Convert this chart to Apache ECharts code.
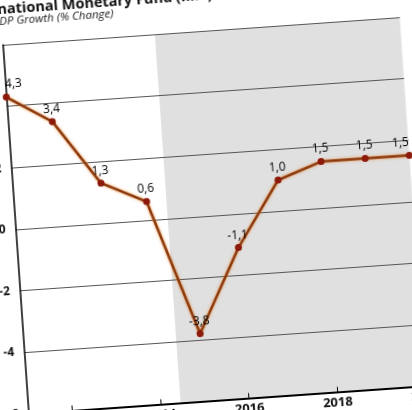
<!DOCTYPE html>
<html>
<head>
<meta charset="utf-8">
<script src="https://cdn.jsdelivr.net/npm/echarts@6/dist/echarts.min.js"></script>
<style>
  html, body { margin: 0; padding: 0; width: 412px; height: 410px; overflow: hidden; background: #fff; }
  #chart {
    position: absolute; left: -60px; top: -40px; width: 520px; height: 500px;
    transform-origin: 60px 40px; transform: rotate(-4deg);
  }
</style>
</head>
<body>
<div id="chart"></div>
<script>
// data
const years = [2011, 2012, 2013, 2014, 2015, 2016, 2017, 2018, 2019, 2020];
const growth = [4.3, 3.4, 1.3, 0.6, -3.8, -1.1, 1.0, 1.5, 1.5, 1.5];
const yearTicks = [2012, 2014, 2016, 2018, 2020];
const shadeFrom = 2014.45;
const shadeTo = 2020;

const chart = echarts.init(document.getElementById('chart'));
const font = 'Open Sans, DejaVu Sans, sans-serif';
const last = years.length - 1;

chart.setOption({
  animation: false,
  title: [
    {
      text: 'International Monetary Fund (IMF)',
      left: 16, top: 37,
      textStyle: { fontFamily: font, fontSize: 14.5, fontWeight: 'bold', color: '#111' }
    },
    {
      text: 'GDP Growth (% Change)',
      left: 45, top: 51,
      textStyle: { fontFamily: font, fontSize: 11.5, fontStyle: 'italic', fontWeight: 'normal', color: '#222' }
    }
  ],
  grid: { left: 59.5, top: 85, width: 398, height: 369.5 },
  xAxis: {
    type: 'value', min: 2011, max: 2020, interval: 1, z: 2,
    axisLine: { onZero: false, lineStyle: { color: '#000', width: 2 } },
    axisTick: { show: true, inside: true, length: 5, customValues: yearTicks, lineStyle: { color: '#000' } },
    axisLabel: {
      customValues: yearTicks, margin: 4, fontFamily: font, fontSize: 13, fontWeight: 'bold', color: '#111',
      formatter: v => String(v)
    },
    splitLine: { show: false }
  },
  yAxis: {
    type: 'value', min: -6, max: 6, interval: 2, z: 2,
    axisLine: { show: true, lineStyle: { color: '#000', width: 1.5 } },
    axisTick: { show: false },
    axisLabel: { margin: 10, fontFamily: font, fontSize: 12, fontWeight: 'bold', color: '#111' },
    splitLine: { lineStyle: { color: '#555', width: 1 } }
  },
  series: [
    {
      // shaded projection band, kept under the grid lines
      type: 'line',
      data: [],
      z: 0,
      markArea: {
        silent: true,
        z: 0,
        itemStyle: { color: '#e0e0e0' },
        data: [[{ xAxis: shadeFrom }, { xAxis: shadeTo }]]
      }
    },
    {
      type: 'line',
      data: years.map((y, i) => ({
        value: [y, growth[i]],
        label: i === 0 ? { offset: [8, 0] } : i === last ? { offset: [-8, 0] } : undefined
      })),
      symbol: 'circle', symbolSize: 7,
      itemStyle: { color: '#8b1a0a' },
      lineStyle: { color: '#8b3a0e', width: 2.5, shadowColor: 'rgba(235,130,40,0.9)', shadowBlur: 3 },
      label: {
        show: true, position: 'top', distance: 3,
        fontFamily: font, fontSize: 12, color: '#000',
        formatter: p => p.value[1].toFixed(1).replace('.', ',')
      },
      z: 3
    }
  ]
});
</script>
</body>
</html>
